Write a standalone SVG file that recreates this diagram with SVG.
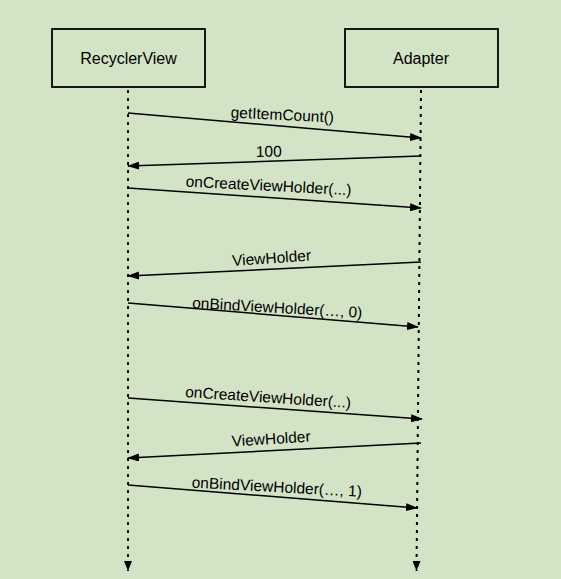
<svg xmlns="http://www.w3.org/2000/svg" width="561" height="579" viewBox="0 0 561 579">
<defs>
<style>
.box{fill:#d3e3c6;stroke:#000;stroke-width:1.8}
.t{font-family:"Liberation Sans",Arial,sans-serif;font-size:15.5px;fill:#000}
.msg{stroke:#000;stroke-width:1.5;fill:none;marker-end:url(#ah)}
.life{stroke:#000;stroke-width:2;stroke-dasharray:3 5;fill:none;marker-end:url(#lh)}
</style>
<marker id="ah" viewBox="0 0 12 8" refX="11" refY="4" markerWidth="12" markerHeight="8" markerUnits="userSpaceOnUse" orient="auto">
<path d="M0,0 L12,4 L0,8 Z" fill="#000"/>
</marker>
<marker id="lh" viewBox="0 0 8 10" refX="4" refY="10" markerWidth="8" markerHeight="10" markerUnits="userSpaceOnUse" orient="0">
<path d="M0,0 L8,0 L4,10 Z" fill="#000"/>
</marker>
</defs>
<rect width="561" height="579" fill="#d3e3c6"/>
<g id="node-recyclerview">
<rect class="box" x="52" y="29" width="153" height="58"/>
<text class="t" x="128.5" y="64" text-anchor="middle" style="font-size:16px">RecyclerView</text>
</g>
<g id="node-adapter">
<rect class="box" x="345" y="29" width="153" height="58"/>
<text class="t" x="421" y="64" text-anchor="middle" style="font-size:16px">Adapter</text>
</g>
<g id="connectors">
<line class="life" x1="128" y1="90" x2="128" y2="571"/>
<line class="life" x1="421" y1="90" x2="416.5" y2="571"/>
<line class="msg" x1="128" y1="113" x2="421" y2="138"/>
<line class="msg" x1="421" y1="156" x2="128" y2="166"/>
<line class="msg" x1="128" y1="188" x2="421" y2="208"/>
<line class="msg" x1="421" y1="262" x2="128" y2="276"/>
<line class="msg" x1="128" y1="303" x2="418" y2="327"/>
<line class="msg" x1="128" y1="398" x2="422" y2="419"/>
<line class="msg" x1="421" y1="443" x2="128" y2="458"/>
<line class="msg" x1="128" y1="485" x2="417" y2="508"/>
</g>
<g id="labels">
<text class="t" x="230.5" y="117.5" transform="rotate(2.8 230.5 117.5)">getItemCount()</text>
<text class="t" x="256" y="157" transform="rotate(-1 256 157)">100</text>
<text class="t" x="185.5" y="186.5" transform="rotate(3 185.5 186.5)">onCreateViewHolder(...)</text>
<text class="t" x="232.5" y="266" transform="rotate(-4 232.5 266)">ViewHolder</text>
<text class="t" x="192" y="308" transform="rotate(3.3 192 308)">onBindViewHolder(…, 0)</text>
<text class="t" x="185" y="397" transform="rotate(3.8 185 397)">onCreateViewHolder(...)</text>
<text class="t" x="232" y="446.5" transform="rotate(-3.6 232 446.5)">ViewHolder</text>
<text class="t" x="191.5" y="487.5" transform="rotate(3.1 191.5 487.5)">onBindViewHolder(…, 1)</text>
</g>
</svg>
